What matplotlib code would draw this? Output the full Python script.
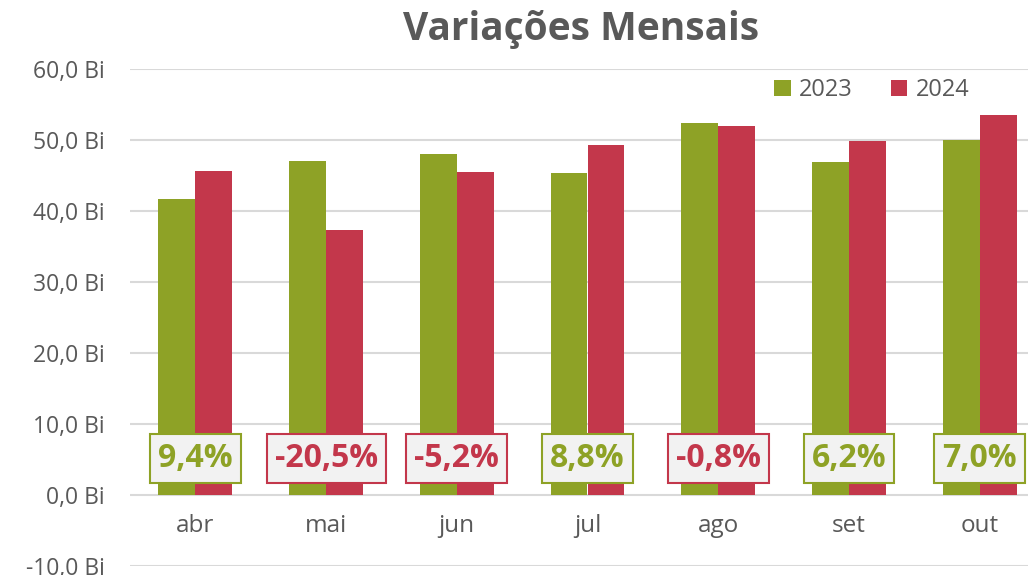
import matplotlib
matplotlib.use('Agg')
import matplotlib.pyplot as plt
import numpy as np

months = ['abr', 'mai', 'jun', 'jul', 'ago', 'set', 'out']
vals_2023 = [41.7, 47.0, 48.0, 45.3, 52.4, 46.9, 50.0]
vals_2024 = [45.6, 37.3, 45.5, 49.3, 52.0, 49.9, 53.5]
variations = [9.4, -20.5, -5.2, 8.8, -0.8, 6.2, 7.0]
y_ticks = [-10, 0, 10, 20, 30, 40, 50, 60]

GREEN = '#8ea226'
RED = '#c3374b'
TEXT = '#595959'

plt.rcParams['font.family'] = ['Open Sans', 'DejaVu Sans']

fig = plt.figure(figsize=(10.28, 5.75), dpi=100)
ax = fig.add_axes([130 / 1028, 9 / 575, 915 / 1028, 497 / 575])

x = np.arange(len(months))
w = 0.283
ax.bar(x - w / 2, vals_2023, w, color=GREEN, label='2023', zorder=3)
ax.bar(x + w / 2, vals_2024, w, color=RED, label='2024', zorder=3)

ax.set_xlim(-0.5, len(months) - 0.5)
ax.set_ylim(-10, 60)
ax.set_yticks(y_ticks)
ax.set_yticklabels([f'{t:.1f}'.replace('.', ',') + ' Bi' for t in y_ticks],
                   fontsize=16.5, color=TEXT)
ax.tick_params(axis='y', length=0, pad=18)
ax.set_xticks([])
ax.grid(axis='y', color='#d9d9d9', linewidth=1.5, zorder=0)
for s in ax.spines.values():
    s.set_visible(False)

# month labels sit below the zero line
for xi, m in zip(x, months):
    ax.text(xi, -4.4, m, ha='center', va='center', fontsize=17.5, color=TEXT)

# variation boxes
for xi, v in zip(x, variations):
    c = GREEN if v >= 0 else RED
    txt = f'{v:.1f}'.replace('.', ',') + '%'
    ax.text(xi, 5.1, txt, ha='center', va='center', fontsize=23,
            fontweight='bold', color=c, zorder=5,
            bbox=dict(boxstyle='square,pad=0.25', fc='#f2f2f2', ec=c, lw=1.5))

fig.text(0.565, 0.948, 'Variações Mensais', ha='center', va='center',
         fontsize=28, fontweight='bold', color=TEXT)

leg = fig.legend(loc='center', bbox_to_anchor=(0.848, 0.843), ncol=2,
                 frameon=False, fontsize=17, handlelength=0.7, handleheight=0.7,
                 handletextpad=0.35, columnspacing=1.6)
for t in leg.get_texts():
    t.set_color(TEXT)

plt.savefig('out.png', dpi=100)
plt.close()
